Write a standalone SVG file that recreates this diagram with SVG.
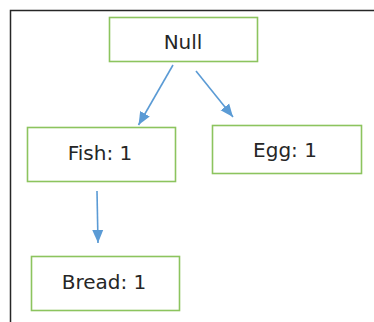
<svg xmlns="http://www.w3.org/2000/svg" width="374" height="322" viewBox="0 0 374 322">
<defs>
<style>
.box{fill:#ffffff;stroke:#8cc45e;stroke-width:1.6}
.lbl{font-family:"DejaVu Sans",sans-serif;font-size:20px;fill:#262626;text-anchor:middle}
.edge{stroke:#5b9bd5;stroke-width:1.6;fill:none}
</style>
<marker id="ah" markerUnits="userSpaceOnUse" markerWidth="14" markerHeight="14" viewBox="0 0 14 14" refX="13" refY="7" orient="auto">
<path d="M0,1.5 L13,7 L0,12.5 Z" fill="#5b9bd5"/>
</marker>
</defs>
<rect x="0" y="0" width="374" height="322" fill="#ffffff"/>
<path d="M10.5,322 L10.5,10.5 L374,10.5" fill="none" stroke="#262626" stroke-width="1.5"/>
<g id="connectors">
<line class="edge" x1="173" y1="65" x2="138.5" y2="125" marker-end="url(#ah)"/>
<line class="edge" x1="196" y1="71" x2="233" y2="117" marker-end="url(#ah)"/>
<line class="edge" x1="97" y1="191" x2="98" y2="243" marker-end="url(#ah)"/>
</g>
<g id="node-null">
<rect class="box" x="109.5" y="17.5" width="148" height="44"/>
<text class="lbl" x="183" y="49">Null</text>
</g>
<g id="node-fish">
<rect class="box" x="27.5" y="127.5" width="148" height="54"/>
<text class="lbl" x="100" y="159.5">Fish: 1</text>
</g>
<g id="node-egg">
<rect class="box" x="212.5" y="125.5" width="149" height="48"/>
<text class="lbl" x="285" y="157">Egg: 1</text>
</g>
<g id="node-bread">
<rect class="box" x="31.5" y="256.5" width="148" height="54"/>
<text class="lbl" x="104" y="289">Bread: 1</text>
</g>
</svg>
